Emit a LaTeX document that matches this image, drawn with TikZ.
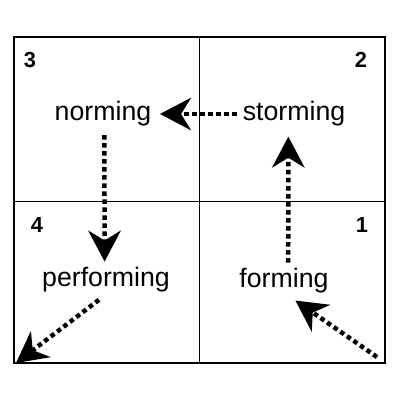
\documentclass[tikz,border=0pt]{standalone}
\usepackage{fontspec}
\setmainfont{Liberation Sans}
\usetikzlibrary{arrows.meta, calc, positioning}

\begin{document}
\begin{tikzpicture}[x=0.025cm, y=-0.025cm, line cap=butt, line join=miter, >={Stealth[length=22pt, width=23pt, inset=7pt]}]
    \tikzset{
        phase/.style={inner sep=2pt, font=\fontsize{19}{22}\selectfont},
        quarter/.style={inner sep=0pt, font=\fontsize{15.5}{18}\selectfont\bfseries},
        flow/.style={->, line width=3.2pt, dash pattern=on 3.2pt off 2.5pt}
    }
    \useasboundingbox (0,0) rectangle (400,400);

    	% frame and quarters
    	\draw [line width=2.1pt] (14,37) rectangle (385,363);
    	\draw [line width=0.7pt] (199,37) -- (199,363);
    	\draw [line width=0.7pt] (14,201) -- (385,201);

    	\node [quarter] (q3) at (30,60) {3};
    	\node [quarter] (q2) at (361,60) {2};
    	\node [quarter] (q4) at (37,225) {4};
    	\node [quarter] (q1) at (362,225) {1};

    	% phases
    	\node [phase] (norming) at (103,114) {norming};
    	\node [phase] (storming) at (294,114) {storming};
    	\node [phase] (performing) at (106,280) {performing};
    	\node [phase] (forming) at (284,281) {forming};

    	\coordinate (start) at (377,357);
    	\coordinate (finish) at (16,363);

		\draw [flow, shorten <=2pt, shorten >=4pt] (storming.west) -- (norming.east);
		\draw [flow, shorten <=4pt, shorten >=2pt] ([xshift=1pt]norming.south) -- ([xshift=-1pt]performing.north);
		\draw [flow, shorten <=2pt, shorten >=5pt] ([xshift=3pt]forming.north) -- ([xshift=-4pt]storming.south);
		\draw [flow, shorten >=5pt] (start) -- ([xshift=4pt]forming.south);
		\draw [flow, shorten <=5pt] ([xshift=-1pt]performing.south) -- (finish);
    \end{tikzpicture}
\end{document}
